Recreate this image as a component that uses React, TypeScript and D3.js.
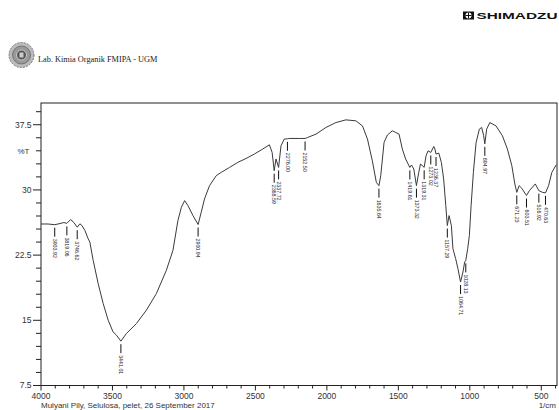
import React from "react";
import * as d3 from "d3";

// spectrum (wavenumber in 1/cm, transmittance in %T)
const wavenumbers = [
  4000, 3951, 3903.92, 3867, 3840, 3819.06, 3793, 3770, 3746.62, 3728, 3714, 3693, 3670, 3658,
  3635, 3600, 3565, 3530, 3496, 3472, 3441.01, 3402, 3332, 3263, 3193, 3123, 3077, 3042, 3018,
  2995, 2972, 2937, 2900.94, 2879, 2856, 2821, 2774, 2739, 2681, 2623, 2565, 2507, 2449, 2402,
  2383, 2368.59, 2356, 2337.72, 2321, 2298, 2276.0, 2263, 2193, 2152.5, 2135, 2076, 2007, 1937,
  1867, 1797, 1751, 1716, 1682, 1654, 1635.64, 1623, 1600, 1577, 1542, 1518, 1495, 1472, 1449,
  1419.61, 1408, 1392, 1373.32, 1357, 1345, 1319.31, 1306, 1292, 1273.02, 1252, 1244, 1236.37,
  1217, 1199, 1183, 1168, 1157.29, 1145, 1129, 1118, 1099, 1083, 1064.71, 1048, 1036, 1028.13,
  1015, 1003, 991, 975, 956, 933, 917, 903, 894.97, 882, 860, 817, 772, 737, 706, 685, 671.23,
  655, 636, 603.51, 583, 542, 516.92, 491, 470.63, 449, 426, 395,
];
const transmittance = [
  26.08, 26.08, 26.0, 26.13, 26.25, 26.15, 26.59, 26.25, 25.71, 26.1, 25.91, 25.34, 24.38, 23.99,
  21.89, 19.22, 16.93, 15.01, 13.67, 13.29, 12.6, 13.49, 14.63, 16.16, 18.07, 20.75, 23.04, 26.48, 28.0,
  28.77, 28.2, 27.05, 26.02, 27.43, 28.97, 30.49, 31.64, 32.02, 32.59, 33.17, 33.62, 34.13, 34.7, 35.19,
  34.31, 32.21, 33.56, 32.59, 35.08, 35.85, 35.88, 35.92, 35.92, 35.92, 36.03, 36.42, 37.18, 37.75,
  38.06, 37.95, 37.37, 35.85, 33.36, 30.87, 30.49, 31.64, 35.46, 36.31, 36.8, 36.61, 36.42, 34.7, 33.56,
  32.59, 32.87, 32.41, 30.49, 32.02, 32.98, 32.6, 33.93, 34.5, 34.31, 35.0, 34.7, 34.13,
  34.24, 33.17, 31.26, 28.2, 25.9, 27.05, 25.9, 23.23, 22.09, 20.94, 19.4, 20.55, 21.7, 21.89,
  23.23, 24.76, 28.2, 32.02, 35.46, 37.0, 37.18, 36.23, 35.3, 37.0, 37.75, 37.37, 36.23, 34.7, 32.79, 30.69, 29.72,
  30.49, 30.18, 29.35, 29.92, 30.69, 29.92, 29.72, 29.66, 30.49, 32.02, 32.9,
];

// picked peaks
const peakWavenumbers = [
  3903.92, 3819.06, 3746.62, 3441.01, 2900.94, 2368.59, 2337.72, 2276.0, 2152.5, 1635.64,
  1419.61, 1373.32, 1319.31, 1273.02, 1236.37, 1157.29, 1064.71, 1028.13, 894.97, 671.23,
  603.51, 516.92, 470.63,
];

const xTickLabels = [4000, 3500, 3000, 2500, 2000, 1500, 1000, 500];
const yTickLabels = [7.5, 15, 22.5, 30, 37.5];

const W = 559, H = 410;
const left = 41, right = 557, top = 103, bottom = 385.5;
const sans = "'Liberation Sans', Arial, sans-serif";

const App = () => {
  const x = d3.scaleLinear().domain([4000, 390]).range([left, right]);
  const y = d3.scaleLinear().domain([7.5, 40]).range([bottom, top]);

  const points = wavenumbers.map((w, i) => [w, transmittance[i]] as [number, number]);
  const line = d3.line<[number, number]>()
    .x(d => x(d[0]))
    .y(d => y(d[1]));

  const minorX = d3.range(4000, 399, -100);
  const minorY = d3.range(7.5, 40.1, 1.5);

  const peakT = (w: number) => transmittance[wavenumbers.indexOf(w)];

  return (
    <svg width={W} height={H} style={{ position: "absolute", left: 0, top: 0, background: "#fff" }}>
      {/* header */}
      <g transform="translate(21.5,55)">
        <circle r={12.5} fill="#bbb" stroke="#777" strokeWidth={1} strokeDasharray="2 1.2" />
        <circle r={9} fill="#999" stroke="#666" strokeWidth={0.8} />
        <circle r={5} fill="#555" stroke="#ddd" strokeWidth={0.8} />
        <rect x={-2} y={-2.5} width={4} height={5} fill="#ccc" />
      </g>
      <text x={38} y={62} fontFamily="'Liberation Serif', 'Times New Roman', serif" fontSize={8.3} fill="#222">
        Lab. Kimia Organik FMIPA - UGM
      </text>

      <g>
        <rect x={463} y={11.5} width={11} height={8} fill="#111" />
        <circle cx={468.5} cy={15.5} r={3} fill="#fff" />
        <line x1={468.5} y1={12.5} x2={468.5} y2={18.5} stroke="#111" strokeWidth={1} />
        <line x1={465.5} y1={15.5} x2={471.5} y2={15.5} stroke="#111" strokeWidth={1} />
        <text x={476.5} y={19.3} fontFamily={sans} fontWeight="bold" fontSize={9}
          textLength={81} lengthAdjust="spacingAndGlyphs" fill="#111">SHIMADZU</text>
      </g>

      {/* frame */}
      <rect x={left} y={top} width={right - left} height={bottom - top} fill="none" stroke="#222" strokeWidth={1} />

      {/* y axis */}
      {minorY.map(v => {
        const major = yTickLabels.some(t => Math.abs(t - v) < 0.01);
        return (
          <line key={"yt" + v} x1={left - (major ? 8 : 5)} x2={left} y1={y(v)} y2={y(v)} stroke="#222" strokeWidth={1} />
        );
      })}
      {yTickLabels.map(v => (
        <text key={"yl" + v} x={31.5} y={y(v)} dy="0.35em" textAnchor="end" fontFamily={sans} fontSize={8.5} fill="#333">
          {v}
        </text>
      ))}
      <text x={29.5} y={y(34.5)} dy="0.35em" textAnchor="end" fontFamily={sans} fontSize={8} fill="#333">%T</text>

      {/* x axis */}
      {minorX.map(v => {
        const major = v % 500 === 0;
        return (
          <line key={"xt" + v} x1={x(v)} x2={x(v)} y1={bottom} y2={bottom + (major ? 5 : 3)} stroke="#222" strokeWidth={1} />
        );
      })}
      {xTickLabels.map(v => (
        <text key={"xl" + v} x={x(v)} y={399} textAnchor="middle" fontFamily={sans} fontSize={8.5} fill="#333">
          {v}
        </text>
      ))}
      <text x={556} y={408} textAnchor="end" fontFamily={sans} fontSize={8} fill="#333">1/cm</text>
      <text x={41} y={408} fontFamily={sans} fontSize={8} fill="#333">
        Mulyani Pily, Selulosa, pelet, 26 September 2017
      </text>

      {/* spectrum */}
      <path d={line(points) || ""} fill="none" stroke="#3a3a3a" strokeWidth={1} strokeLinejoin="round" />

      {/* peak labels */}
      {peakWavenumbers.map(w => {
        const px = x(w);
        const py = y(peakT(w));
        return (
          <g key={"pk" + w}>
            <line x1={px} x2={px} y1={py + 3} y2={py + 12} stroke="#111" strokeWidth={1} />
            <text transform={`translate(${px},${py + 14}) rotate(90)`} dy="0.35em" fontFamily={sans}
              fontSize={5.3} fill="#223">
              {w.toFixed(2)}
            </text>
          </g>
        );
      })}
    </svg>
  );
};

export default App;
